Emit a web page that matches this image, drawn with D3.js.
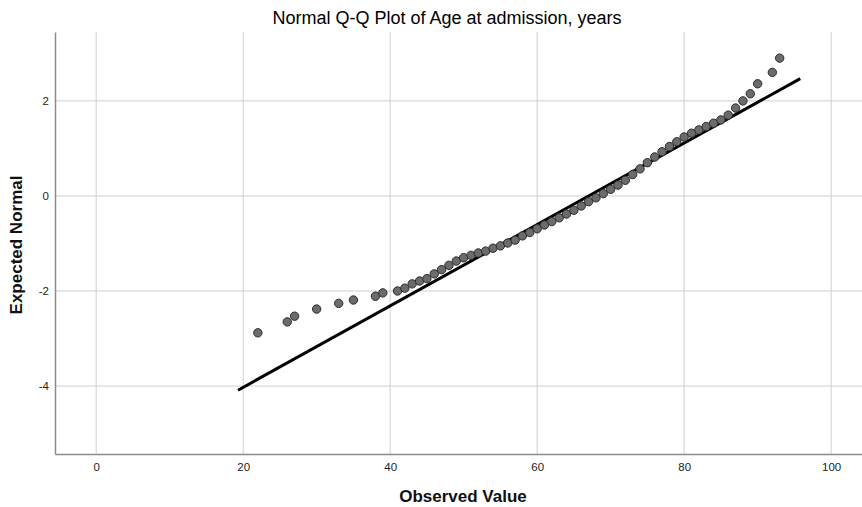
<!DOCTYPE html>
<html>
<head>
<meta charset="utf-8">
<script src="https://cdn.jsdelivr.net/npm/d3@7"></script>
<style>
  body { margin: 0; background: #fff; }
  text { font-family: "Liberation Sans", Arial, sans-serif; }
</style>
</head>
<body>
<div id="vis"></div>
<script>
// observed ages and their expected normal values
var ages = [22, 26, 27, 30, 33, 35, 38, 39, 41, 42, 43, 44, 45, 46, 47, 48, 49, 50,
  51, 52, 53, 54, 55, 56, 57, 58, 59, 60, 61, 62, 63, 64, 65, 66, 67, 68, 69, 70,
  71, 72, 73, 74, 75, 76, 77, 78, 79, 80, 81, 82, 83, 84, 85, 86, 87, 88, 89, 90, 92, 93];
var expected = [-2.88, -2.65, -2.53, -2.38, -2.26, -2.19, -2.11, -2.04, -2.0, -1.94, -1.85, -1.79, -1.74, -1.64, -1.55, -1.46, -1.37, -1.3,
  -1.25, -1.2, -1.16, -1.1, -1.05, -0.99, -0.93, -0.84, -0.77, -0.69, -0.61, -0.54, -0.46, -0.38, -0.3, -0.21, -0.12, -0.04, 0.05, 0.14,
  0.23, 0.33, 0.45, 0.57, 0.7, 0.82, 0.93, 1.04, 1.14, 1.24, 1.32, 1.39, 1.46, 1.53, 1.6, 1.7, 1.85, 2.0, 2.15, 2.36, 2.6, 2.9];

// reference line: mean and sd of the sample
var mean = 67.0;
var sd = 11.67;
var lineAges = [19.3, 95.8];

var xTicks = [0, 20, 40, 60, 80, 100];
var yTicks = [-4, -2, 0, 2];

var width = 862, height = 507;
var plotLeft = 55, plotRight = 862, plotTop = 32, plotBottom = 454;

var x = d3.scaleLinear().domain([-5.6, 104.2]).range([plotLeft, plotRight]);
var y = d3.scaleLinear().domain([-5.43, 3.45]).range([plotBottom, plotTop]);

var svg = d3.select('#vis').append('svg')
  .attr('width', width)
  .attr('height', height);

// gridlines
svg.append('g').selectAll('line')
  .data(xTicks)
  .enter().append('line')
  .attr('x1', function (d) { return x(d); })
  .attr('x2', function (d) { return x(d); })
  .attr('y1', plotTop).attr('y2', plotBottom)
  .attr('stroke', '#cfcfcf').attr('stroke-width', 1);

svg.append('g').selectAll('line')
  .data(yTicks)
  .enter().append('line')
  .attr('y1', function (d) { return y(d); })
  .attr('y2', function (d) { return y(d); })
  .attr('x1', plotLeft).attr('x2', plotRight)
  .attr('stroke', '#cfcfcf').attr('stroke-width', 1);

// axes
var xAxis = svg.append('g')
  .attr('transform', 'translate(0,' + plotBottom + ')')
  .call(d3.axisBottom(x).tickValues(xTicks).tickSize(0).tickPadding(9));
var yAxis = svg.append('g')
  .attr('transform', 'translate(' + plotLeft + ',0)')
  .call(d3.axisLeft(y).tickValues(yTicks).tickSize(0).tickPadding(6)
    .tickFormat(function (d) { return d; }));

[xAxis, yAxis].forEach(function (g) {
  g.select('.domain').attr('stroke', '#8c8c8c').attr('stroke-width', 1.5);
  g.selectAll('text')
    .attr('fill', '#222')
    .style('font-size', '11.5px')
    .style('font-family', '"Liberation Sans", Arial, sans-serif');
});

// reference line
svg.append('line')
  .attr('x1', x(lineAges[0]))
  .attr('y1', y((lineAges[0] - mean) / sd))
  .attr('x2', x(lineAges[1]))
  .attr('y2', y((lineAges[1] - mean) / sd))
  .attr('stroke', '#000')
  .attr('stroke-width', 3);

// points
svg.append('g').selectAll('circle')
  .data(ages)
  .enter().append('circle')
  .attr('cx', function (d) { return x(d); })
  .attr('cy', function (d, i) { return y(expected[i]); })
  .attr('r', 4.2)
  .attr('fill', '#6b6b6b')
  .attr('stroke', '#2b2b2b')
  .attr('stroke-width', 1);

// titles
svg.append('text')
  .attr('x', 447).attr('y', 24)
  .attr('text-anchor', 'middle')
  .style('font-size', '18px')
  .attr('fill', '#000')
  .text('Normal Q-Q Plot of Age at admission, years');

svg.append('text')
  .attr('x', 463).attr('y', 502)
  .attr('text-anchor', 'middle')
  .style('font-size', '17px')
  .style('font-weight', 'bold')
  .attr('fill', '#111')
  .text('Observed Value');

svg.append('text')
  .attr('transform', 'translate(22,245) rotate(-90)')
  .attr('text-anchor', 'middle')
  .style('font-size', '17px')
  .style('font-weight', 'bold')
  .attr('fill', '#111')
  .text('Expected Normal');
</script>
</body>
</html>
